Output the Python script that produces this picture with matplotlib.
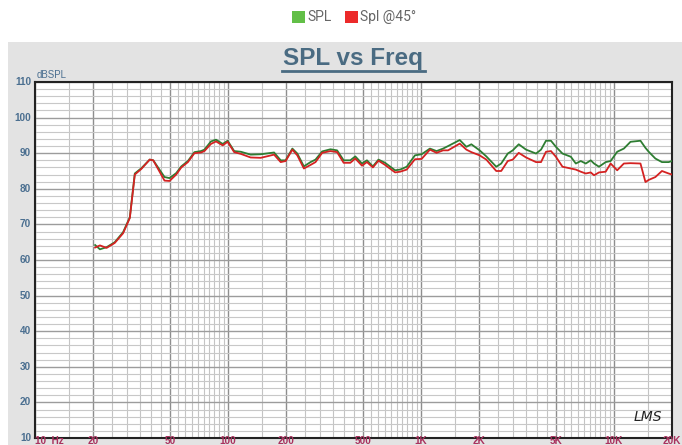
import numpy as np
import matplotlib
matplotlib.use("Agg")
import matplotlib.pyplot as plt
from matplotlib.patches import Rectangle

freq = [20.5, 21.7, 23.5, 25.9, 28.6, 31, 32.9, 35.6, 39.3, 41, 46.9, 49.8, 53.9, 57.3, 62,
        67, 72.5, 75.5, 81.6, 86.7, 93.9, 99.6, 107.7, 116.7, 131, 147.9, 173.3, 187.6, 199,
        215.6, 228.7, 247.4, 267.8, 284.2, 307.7, 339.6, 367.7, 397.7, 430.5, 456.8, 494.8,
        525, 563.6, 602.5, 652, 734.5, 779.6, 844, 931, 1008, 1113, 1205, 1303, 1382, 1589,
        1720, 1825, 2014, 2182, 2456, 2606, 2818, 2991, 3212, 3506, 3948, 4191, 4446, 4718,
        5005, 5413, 5982, 6347, 6735, 7145, 7585, 7889, 8369, 9065, 9616, 10399, 11260,
        12190, 13730, 14570, 15150, 16400, 17740, 19210, 20000]

spl = [64.2, 63.0, 63.6, 65.0, 67.8, 72.0, 84.3, 85.8, 88.2, 88.0, 83.3, 83.0, 84.4, 86.3, 87.8,
       90.3, 90.6, 91.0, 93.3, 93.8, 92.6, 93.5, 90.6, 90.4, 89.6, 89.7, 90.2, 88.0, 88.0,
       91.3, 89.9, 86.3, 87.5, 88.2, 90.5, 91.1, 90.8, 88.0, 88.0, 89.1, 87.1,
       88.0, 86.3, 88.2, 87.3, 85.2, 85.4, 86.2, 89.4, 89.7, 91.3, 90.6, 91.3, 92.0, 93.7,
       91.8, 92.5, 90.8, 89.1, 86.2, 87.1, 89.9, 90.8, 92.5, 91.0, 89.9, 91.0, 93.5, 93.5,
       91.8, 89.9, 89.0, 87.1, 87.8, 87.1, 88.0, 87.1, 86.2, 87.5, 87.8, 90.4, 91.3,
       93.2, 93.5, 91.5, 90.4, 88.5, 87.5, 87.5, 87.8]

spl45 = [63.5, 64.1, 63.4, 64.8, 67.5, 71.8, 84.0, 85.6, 88.2, 88.0, 82.3, 82.2, 84.0, 86.0, 87.5,
         90.0, 90.2, 90.6, 92.6, 93.3, 92.2, 93.2, 90.3, 89.8, 88.8, 88.7, 89.6, 87.5, 87.8,
         91.0, 89.4, 85.7, 86.7, 87.5, 90.1, 90.6, 90.3, 87.3, 87.3, 88.5, 86.5,
         87.5, 86.0, 87.9, 86.7, 84.6, 84.8, 85.4, 88.3, 88.4, 91.0, 90.1, 90.8, 90.8, 92.7,
         91.0, 90.3, 89.4, 88.2, 85.0, 85.0, 87.8, 88.2, 90.1, 88.8, 87.5, 87.5, 90.4, 90.6,
         89.0, 86.2, 85.7, 85.4, 84.8, 84.3, 84.6, 83.8, 84.6, 84.8, 87.1, 85.2, 87.1,
         87.2, 87.1, 81.9, 82.5, 83.3, 85.0, 84.3, 84.0]

x_tick_vals = [10, 20, 50, 100, 200, 500, 1000, 2000, 5000, 10000, 20000]
x_tick_labels = ["10  Hz", "20", "50", "100", "200", "500", "1K", "2K", "5K", "10K", "20K"]
y_tick_vals = [10, 20, 30, 40, 50, 60, 70, 80, 90, 100, 110]

series_names = ["SPL", "Spl @45\u00b0"]
legend_colors = ["#62bf47", "#ec2a2a"]
line_colors = ["#2e7d32", "#d42222"]

W, H = 682, 445
fig = plt.figure(figsize=(W / 100, H / 100), dpi=100)
fig.patch.set_facecolor("white")

# gray panel
fig.patches.append(Rectangle((8 / W, 0), 1 - 8 / W, (H - 42) / H, transform=fig.transFigure,
                             facecolor="#e3e3e3", edgecolor="none", zorder=-5))

L, R, T, B = 35, 672, 82, 438
ax = fig.add_axes([L / W, (H - B) / H, (R - L) / W, (B - T) / H])
ax.set_zorder(2)
ax.set_facecolor("white")
ax.set_xscale("log")
ax.set_xlim(10, 20000)
ax.set_ylim(10, 110)

# grid lines
minor_x = []
for dec in [10, 100, 1000, 10000]:
    for m in np.arange(1.0, 10.0, 0.5):
        v = dec * m
        if v <= 20000:
            minor_x.append(v)
dark_x = set([10, 20, 50, 100, 200, 500, 1000, 2000, 5000, 10000, 20000])
for v in minor_x:
    if v in dark_x:
        ax.axvline(v, color="#8e8e8e", lw=1.0, zorder=1)
    else:
        ax.axvline(v, color="#c4c4c4", lw=0.8, zorder=1)
for v in range(10, 111, 2):
    if v % 10 == 0:
        ax.axhline(v, color="#9c9c9c", lw=1.0, zorder=1)
    else:
        ax.axhline(v, color="#c8c8c8", lw=0.8, zorder=1)

ax.plot(freq, spl, color=line_colors[0], lw=1.3, zorder=3)
ax.plot(freq, spl45, color=line_colors[1], lw=1.3, zorder=4)

for s in ax.spines.values():
    s.set_color("#222222")
    s.set_linewidth(1.5)

ax.set_xticks([])
ax.set_yticks([])
ax.minorticks_off()

# y labels
for v in y_tick_vals:
    ax.text(-0.006, (v - 10) / 100, str(v), transform=ax.transAxes, ha="right", va="center",
            fontsize=7.2, fontweight="bold", color="#4b6f90", family="Liberation Sans",
            clip_on=False)
ax.text(0.002, 1.006, "dBSPL", transform=ax.transAxes, ha="left", va="bottom",
        fontsize=7, color="#4b6f90", family="Liberation Sans", clip_on=False)

# x labels
for v, lab in zip(x_tick_vals, x_tick_labels):
    xf = np.log10(v / 10) / np.log10(2000)
    xp = (L + xf * (R - L)) / W
    ha = "center"
    if v == 10:
        ha = "left"
    if v == 20000:
        ha = "right"
        xp = (R + 9) / W
    fig.text(xp, 1.0 / H, lab, ha=ha, va="baseline",
             fontsize=7.2, fontweight="bold", color="#a8325e", family="Liberation Sans")

# watermark
ax.text(0.985, 0.04, "LMS", transform=ax.transAxes, ha="right", va="bottom",
        fontsize=10, fontstyle="italic", color="#222222", zorder=5)

# title
fig.text(353 / W, 1 - 59 / H, "SPL vs Freq", ha="center", va="center", fontsize=17.5,
         fontweight="bold", color="#4a6b82", family="Liberation Sans")
fig.lines.append(plt.Line2D([282 / W, 425 / W], [1 - 71 / H, 1 - 71 / H],
                            transform=fig.transFigure, color="#4a6b82", lw=2))

# legend
for i, (name, c) in enumerate(zip(series_names, legend_colors)):
    x0 = [292, 345][i]
    fig.patches.append(Rectangle((x0 / W, 1 - 23 / H), 13 / W, 12 / H,
                                 transform=fig.transFigure, facecolor=c, edgecolor="none"))
    fig.text((x0 + 15) / W, 1 - 17 / H, name, ha="left", va="center", fontsize=10,
             color="#666666", family="Roboto")

fig.savefig("out.png", dpi=100)
